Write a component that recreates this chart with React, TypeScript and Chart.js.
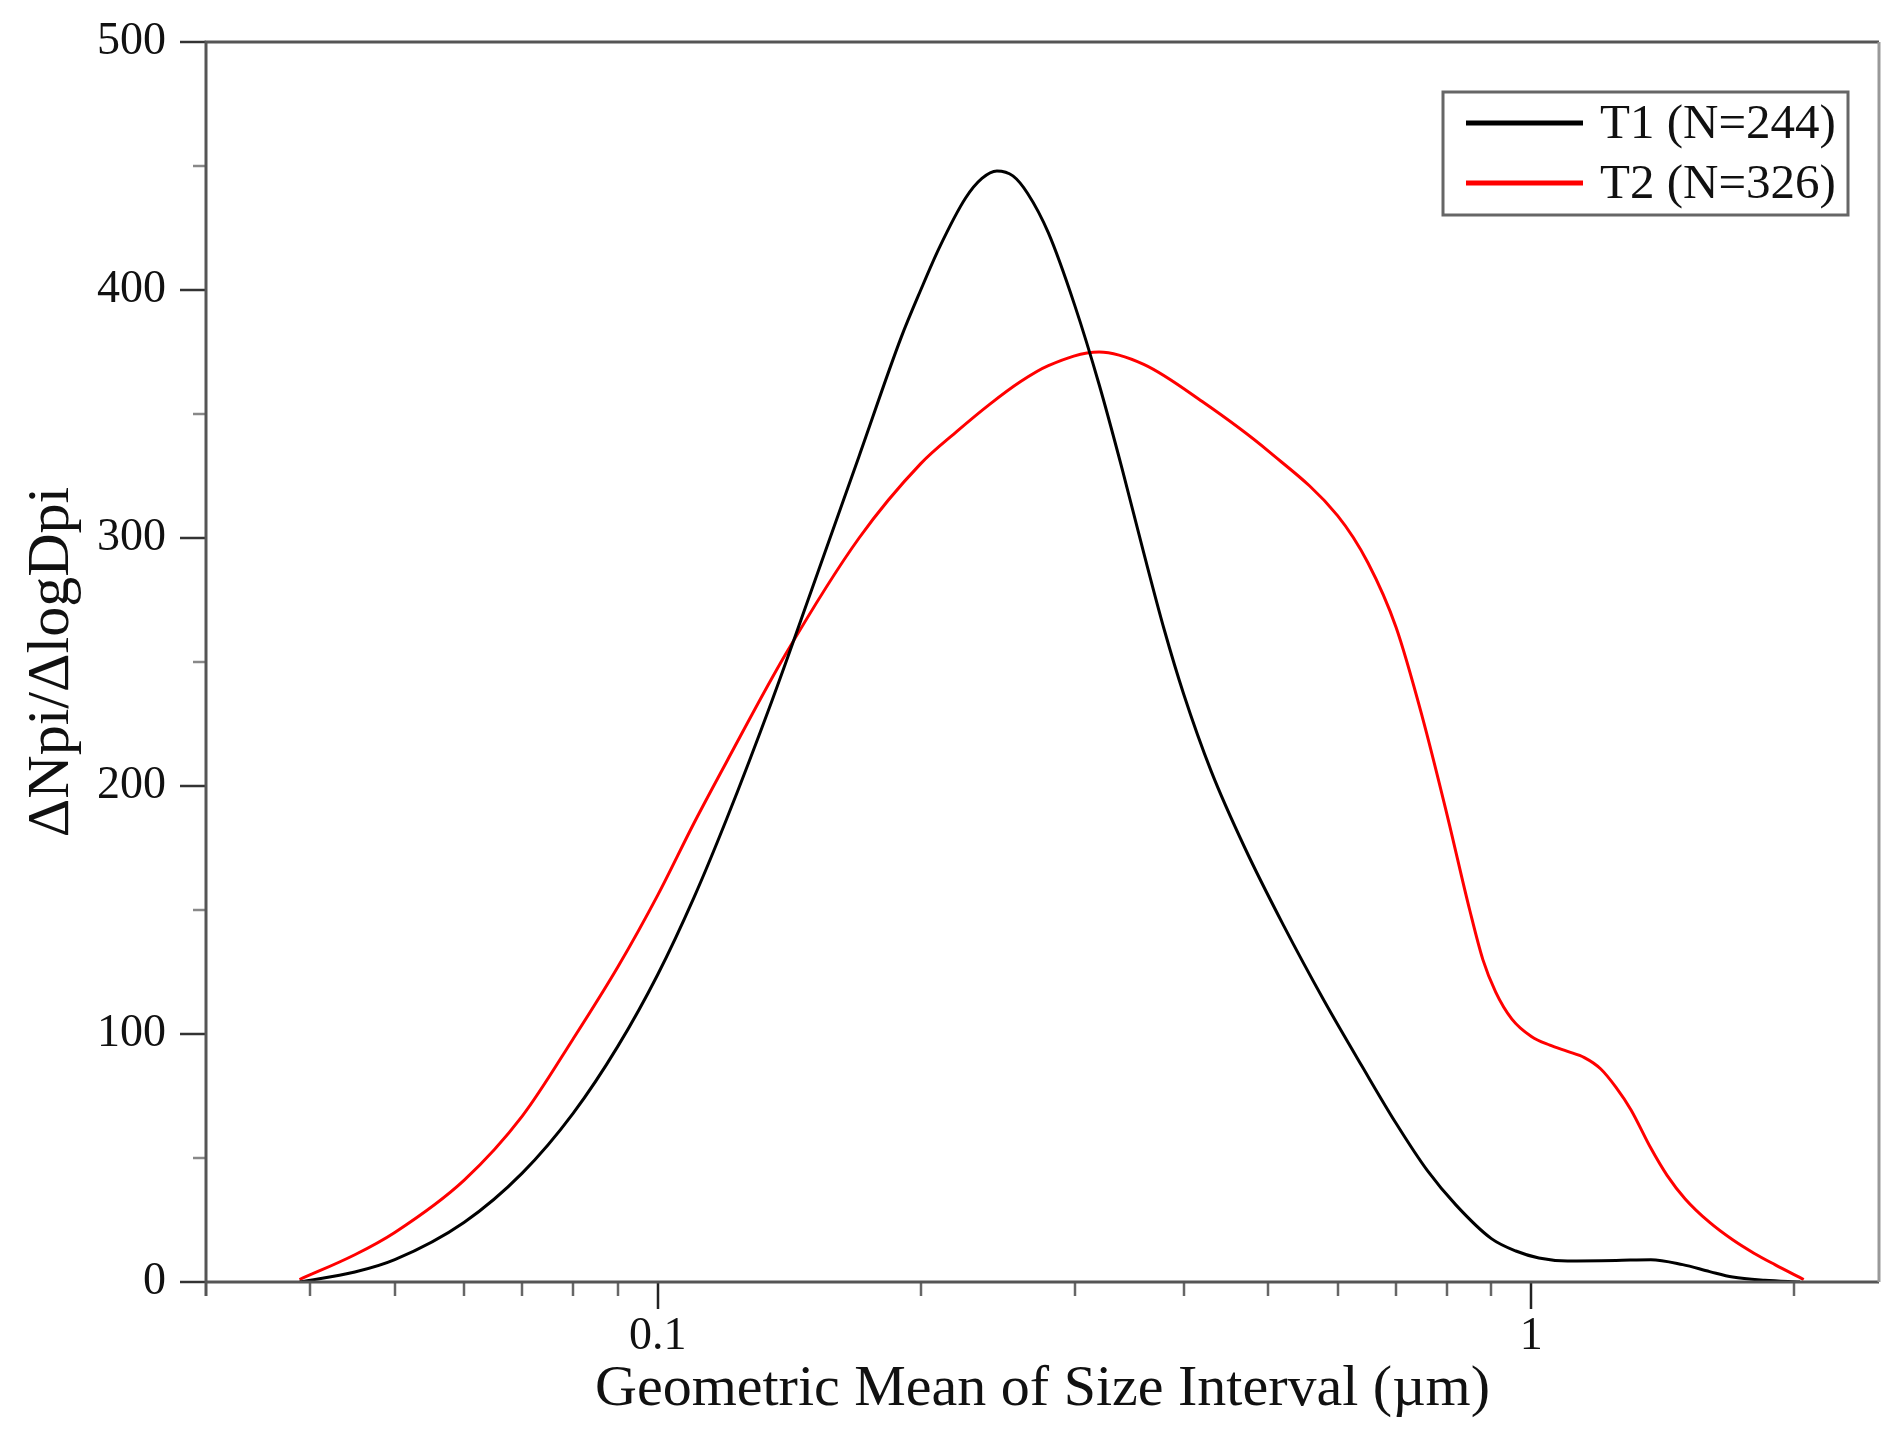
import { useEffect, useRef } from "react"
import { Chart, registerables } from "chart.js"

Chart.register(...registerables)

// Geometric mean of size interval (µm) and ΔNpi/ΔlogDpi
const t1Size = [
  0.0389, 0.045, 0.05, 0.06, 0.07, 0.08, 0.09, 0.1, 0.11, 0.12, 0.135, 0.15, 0.17, 0.19,
  0.2, 0.21, 0.225, 0.235, 0.2445, 0.255, 0.265, 0.28, 0.3, 0.32, 0.34, 0.36, 0.38, 0.4,
  0.43, 0.47, 0.52, 0.58, 0.64, 0.7, 0.76, 0.82, 0.9, 0.96, 1.02, 1.1, 1.25, 1.37, 1.49,
  1.6, 1.7, 1.85, 2.03,
]
const t1Value = [
  0, 4, 9, 24, 44, 68, 95, 124, 155, 187, 234, 279, 333, 381,
  400, 417, 437, 445, 448, 446, 439, 423, 394, 362, 328, 294, 263, 237,
  206, 175, 144, 113, 87, 64, 45, 31, 17.5, 12.5, 9.7, 8.5, 8.7, 9, 7,
  4.2, 2, 0.7, 0,
]

const t2Size = [
  0.0389, 0.045, 0.05, 0.06, 0.07, 0.08, 0.09, 0.1, 0.11, 0.12, 0.14, 0.17, 0.2, 0.22,
  0.24, 0.26, 0.28, 0.32, 0.36, 0.42, 0.5, 0.6, 0.65, 0.7, 0.75, 0.8, 0.85, 0.88, 0.91,
  0.95, 1.0, 1.05, 1.1, 1.15, 1.2, 1.25, 1.3, 1.37, 1.43, 1.5, 1.6, 1.7, 1.8, 1.9, 2.05,
]
const t2Value = [
  1, 11, 20, 41, 67, 98, 127, 156, 185, 210, 253, 300, 330, 343,
  354, 363, 369.5, 375, 370, 355, 335, 309, 290, 264, 228, 189, 150, 130, 117,
  106, 99, 95.5, 93, 90.5, 86, 78.5, 69.5, 54, 43, 33.5, 24, 17, 11.5, 7, 1,
]

const seriesLabels = ["T1 (N=244)", "T2 (N=326)"]
const seriesColors = ["#000000", "#ff0000"]

const xTickValues = [0.04, 0.05, 0.06, 0.07, 0.08, 0.09, 0.1, 0.2, 0.3, 0.4, 0.5, 0.6, 0.7, 0.8, 0.9, 1, 2]
const xMajorTicks = [0.1, 1]
const yTickValues = [0, 50, 100, 150, 200, 250, 300, 350, 400, 450, 500]
const yMajorTicks = [0, 100, 200, 300, 400, 500]

const FONT = "'Liberation Serif', 'Times New Roman', serif"

// axis frame and Origin-style outward tick marks
const frameTicks = {
  id: "frameTicks",
  afterDraw(chart: any) {
    const { ctx, chartArea: a, scales } = chart
    ctx.save()
    ctx.lineCap = "butt"
    ctx.lineWidth = 2.5
    scales.x.ticks.forEach((t: any) => {
      const px = Math.round(scales.x.getPixelForValue(t.value))
      const major = xMajorTicks.includes(t.value)
      ctx.strokeStyle = major ? "#222" : "#666"
      ctx.beginPath()
      ctx.moveTo(px, a.bottom)
      ctx.lineTo(px, a.bottom + (major ? 27 : 14))
      ctx.stroke()
    })
    scales.y.ticks.forEach((t: any) => {
      const py = Math.round(scales.y.getPixelForValue(t.value))
      const major = yMajorTicks.includes(t.value)
      ctx.strokeStyle = major ? "#333" : "#888"
      ctx.beginPath()
      ctx.moveTo(a.left, py)
      ctx.lineTo(a.left - (major ? 26 : 13), py)
      ctx.stroke()
    })
    ctx.lineWidth = 3
    ctx.strokeStyle = "#555"
    ctx.beginPath()
    ctx.moveTo(a.left, a.bottom + 14)
    ctx.lineTo(a.left, a.top)
    ctx.lineTo(a.right, a.top)
    ctx.moveTo(a.left, a.bottom)
    ctx.lineTo(a.right, a.bottom)
    ctx.stroke()
    ctx.strokeStyle = "#999"
    ctx.beginPath()
    ctx.moveTo(a.right, a.top)
    ctx.lineTo(a.right, a.bottom)
    ctx.stroke()
    ctx.restore()
  },
}

// boxed legend inside the top right corner of the plot
const boxLegend = {
  id: "boxLegend",
  afterDraw(chart: any) {
    const { ctx, chartArea: a } = chart
    const right = a.right - 31
    const left = right - 405
    const top = a.top + 50
    const bottom = top + 123
    ctx.save()
    ctx.fillStyle = "#fff"
    ctx.fillRect(left, top, right - left, bottom - top)
    ctx.lineWidth = 3
    ctx.strokeStyle = "#666"
    ctx.strokeRect(left, top, right - left, bottom - top)
    ctx.font = `49px ${FONT}`
    ctx.textBaseline = "middle"
    ctx.textAlign = "left"
    chart.data.datasets.forEach((ds: any, i: number) => {
      const y = top + 31 + i * 60
      ctx.strokeStyle = ds.borderColor
      ctx.lineWidth = 5
      ctx.beginPath()
      ctx.moveTo(left + 23, y)
      ctx.lineTo(left + 140, y)
      ctx.stroke()
      ctx.fillStyle = "#111"
      ctx.fillText(ds.label, left + 157, y + 2)
    })
    ctx.restore()
  },
}

export default function App() {
  const canvasRef = useRef<HTMLCanvasElement>(null)
  const chartRef = useRef<Chart | null>(null)

  useEffect(() => {
    document.body.style.margin = "0"
    if (!canvasRef.current) return
    if (chartRef.current) chartRef.current.destroy()

    const ctx = canvasRef.current.getContext("2d")
    if (!ctx) return

    const t1 = t1Size.map((x, i) => ({ x, y: t1Value[i] }))
    const t2 = t2Size.map((x, i) => ({ x, y: t2Value[i] }))

    chartRef.current = new Chart(ctx, {
      type: "line",
      data: {
        datasets: [
          { label: seriesLabels[0], data: t1, borderColor: seriesColors[0], borderWidth: 3 },
          { label: seriesLabels[1], data: t2, borderColor: seriesColors[1], borderWidth: 3 },
        ],
      },
      options: {
        responsive: false,
        animation: false,
        layout: { padding: { top: 42, right: 22, left: 0, bottom: 0 } },
        elements: {
          point: { radius: 0 },
          line: { cubicInterpolationMode: "monotone", fill: false },
        },
        plugins: {
          legend: { display: false },
          tooltip: { enabled: false },
        },
        scales: {
          x: {
            type: "logarithmic",
            min: 0.0304,
            max: 2.5,
            grid: { display: false, drawTicks: false },
            border: { display: false },
            afterBuildTicks: (scale: any) => {
              scale.ticks = xTickValues.map((v) => ({ value: v }))
            },
            afterFit: (scale: any) => {
              scale.height = 153
              scale.paddingLeft = 0
              scale.paddingRight = 0
            },
            ticks: {
              autoSkip: false,
              maxRotation: 0,
              minRotation: 0,
              padding: 27,
              color: "#111",
              font: { family: FONT, size: 46 },
              callback: (v: any) => (xMajorTicks.includes(Number(v)) ? String(v) : ""),
            },
            title: {
              display: true,
              text: "Geometric Mean of Size Interval (µm)",
              color: "#111",
              font: { family: FONT, size: 58 },
              padding: { top: 0, bottom: 10 },
            },
          },
          y: {
            type: "linear",
            min: 0,
            max: 500,
            grid: { display: false, drawTicks: false },
            border: { display: false },
            afterBuildTicks: (scale: any) => {
              scale.ticks = yTickValues.map((v) => ({ value: v }))
            },
            afterFit: (scale: any) => {
              // fixed axis width, and no extra room above the plot for the top label
              scale.width = 206
              scale.paddingTop = 0
              scale.paddingBottom = 0
            },
            ticks: {
              autoSkip: false,
              padding: 40,
              color: "#111",
              font: { family: FONT, size: 46 },
              callback: (v: any) => (yMajorTicks.includes(Number(v)) ? String(v) : ""),
            },
            title: {
              display: true,
              text: "ΔNpi/ΔlogDpi",
              color: "#111",
              font: { family: FONT, size: 60 },
              padding: { top: 16, bottom: 0 },
            },
          },
        },
      },
      plugins: [frameTicks, boxLegend],
    })

    return () => {
      if (chartRef.current) {
        chartRef.current.destroy()
        chartRef.current = null
      }
    }
  }, [])

  return (
    <div style={{ width: "1901px", height: "1435px", background: "#fff" }}>
      <canvas ref={canvasRef} width={1901} height={1435}></canvas>
    </div>
  )
}
